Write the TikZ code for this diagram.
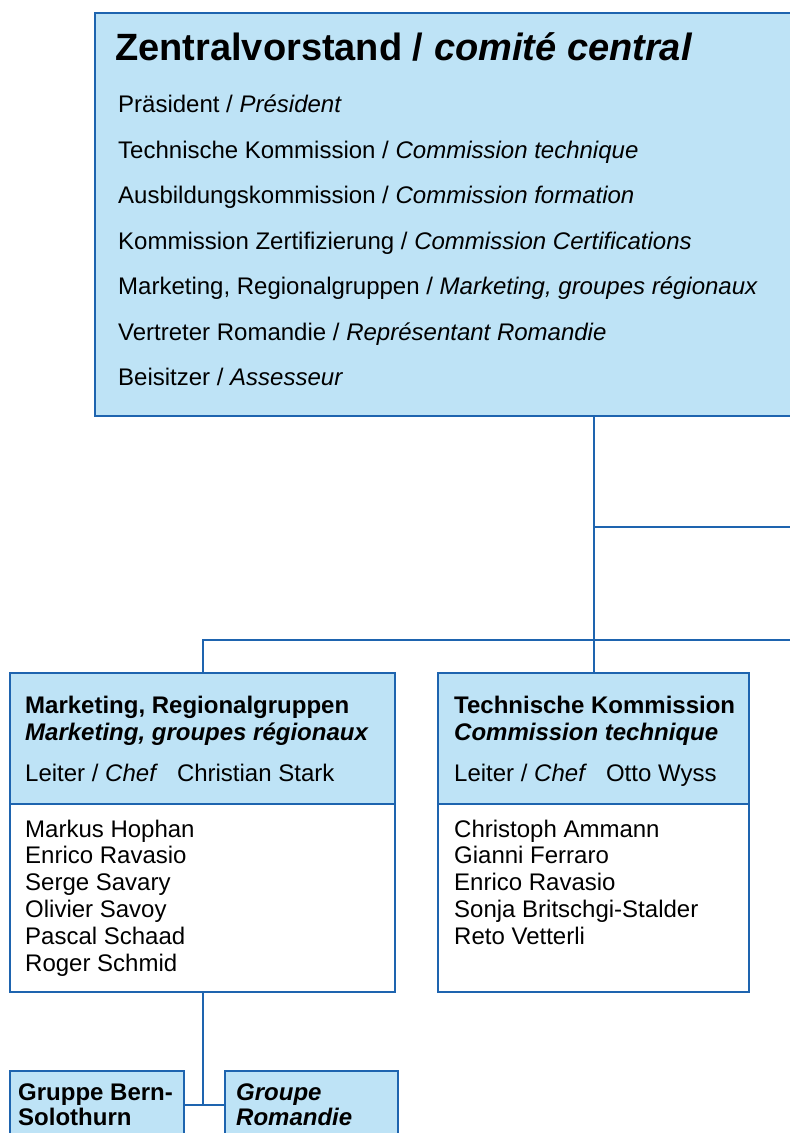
\documentclass[tikz,border=0pt]{standalone}
\usepackage{fontspec}
\setmainfont{Liberation Sans}
\usetikzlibrary{positioning}
\definecolor{boxblue}{HTML}{BEE3F6}
\definecolor{lineblue}{HTML}{1E64AF}
\tikzstyle{head} = [rectangle, draw=lineblue, fill=boxblue, line width=1.8pt, inner sep=0pt, outer sep=0pt, anchor=north west]
\tikzstyle{body} = [rectangle, draw=lineblue, fill=white, line width=1.8pt, inner sep=0pt, outer sep=0pt]
\tikzstyle{line} = [draw=lineblue, line width=2pt]
\tikzstyle{txt} = [anchor=base west, inner sep=0pt, font=\fontsize{24}{27}\selectfont]
\tikzstyle{bold} = [txt, font=\fontsize{24}{27}\selectfont\bfseries]
\tikzstyle{title} = [anchor=base west, inner sep=0pt, font=\fontsize{38}{40}\selectfont\bfseries]

\begin{document}
\begin{tikzpicture}[x=1pt, y=-1pt]
    \path [use as bounding box, clip] (0,0) rectangle (790,1133);

    % Zentralvorstand
    \node (zv) [head, minimum width=780pt, minimum height=403pt] at (95,13) {};
    \node (zvtitle) [title] at (115,60) {Zentralvorstand / \textit{comité central}};
    \node (praes) [txt] at (118,112.5) {Präsident / \textit{Président}};
    \node (techk) [txt] at (118,158) {Technische Kommission / \textit{Commission technique}};
    \node (ausb) [txt] at (118,203.5) {Ausbildungskommission / \textit{Commission formation}};
    \node (zert) [txt] at (118,249) {Kommission Zertifizierung / \textit{Commission Certifications}};
    \node (mark) [txt] at (118,294.5) {Marketing, Regionalgruppen / \textit{Marketing, groupes régionaux}};
    \node (roman) [txt] at (118,340) {Vertreter Romandie / \textit{Représentant Romandie}};
    \node (beis) [txt] at (118,385.5) {Beisitzer / \textit{Assesseur}};

    % Marketing, Regionalgruppen
    \node (mrk) [head, minimum width=385pt, minimum height=131pt] at (10,673) {};
    \node (mrkbody) [body, minimum width=385pt, minimum height=188pt, below=0pt of mrk] {};
    \node (mrkname) [bold] at (25,713) {Marketing, Regionalgruppen};
    \node (mrkname2) [bold] at (25,740) {\textit{Marketing, groupes régionaux}};
    \node (mrkchef) [txt] at (25,781) {Leiter / \textit{Chef}\hspace{19pt}Christian Stark};
    \node (mrk1) [txt] at (25,837) {Markus Hophan};
    \node (mrk2) [txt] at (25,863.8) {Enrico Ravasio};
    \node (mrk3) [txt] at (25,890.6) {Serge Savary};
    \node (mrk4) [txt] at (25,917.4) {Olivier Savoy};
    \node (mrk5) [txt] at (25,944.2) {Pascal Schaad};
    \node (mrk6) [txt] at (25,971) {Roger Schmid};

    % Technische Kommission
    \node (tk) [head, minimum width=311pt, minimum height=131pt] at (438,673) {};
    \node (tkbody) [body, minimum width=311pt, minimum height=188pt, below=0pt of tk] {};
    \node (tkname) [bold] at (454,713) {Technische Kommission};
    \node (tkname2) [bold] at (454,740) {\textit{Commission technique}};
    \node (tkchef) [txt] at (454,781) {Leiter / \textit{Chef}\hspace{19pt}Otto Wyss};
    \node (tk1) [txt] at (454,837) {Christoph Ammann};
    \node (tk2) [txt] at (454,863.8) {Gianni Ferraro};
    \node (tk3) [txt] at (454,890.6) {Enrico Ravasio};
    \node (tk4) [txt] at (454,917.4) {Sonja Britschgi-Stalder};
    \node (tk5) [txt] at (454,944.2) {Reto Vetterli};

    % Regionalgruppen
    \node (bern) [head, minimum width=174pt, minimum height=68pt] at (10,1071) {};
    \node (bernname) [bold] at (18,1100) {Gruppe Bern-};
    \node (bernname2) [bold] at (18,1125) {Solothurn};
    \node (rom) [head, minimum width=173pt, minimum height=68pt] at (225,1071) {};
    \node (romname) [bold] at (236,1100) {\textit{Groupe}};
    \node (romname2) [bold] at (236,1125) {\textit{Romandie}};

    % ==== Lines
    \coordinate (out1) at (800,527);
    \coordinate (out2) at (800,640);
    \draw [line] (zv.south -| tk.north) -- (tk.north);
    \draw [line] (tk.north |- out1) -- (out1);
    \draw [line] (mrk.north) |- (out2);
    \draw [line] (mrkbody.south) -- (mrkbody.south |- bern.east);
    \draw [line] (bern.east) -- (rom.west);

\end{tikzpicture}
\end{document}
